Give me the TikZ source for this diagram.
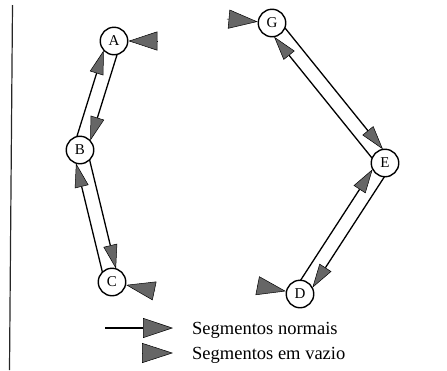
\documentclass[tikz,border=0pt]{standalone}
\usepackage{fontspec}
\setmainfont{Liberation Serif}
\usetikzlibrary{arrows.meta,calc}
\begin{document}
\begin{tikzpicture}[x=1pt,y=-1pt,
  station/.style={circle,draw,line width=1.4pt,minimum size=27.5pt,inner sep=0pt,fill=white,font=\fontsize{15}{15}\selectfont},
  normal/.style={line width=1.3pt,-{Triangle[length=24pt,width=14pt,fill=black!60,color=black,line width=0.5pt]}},
  legnormal/.style={line width=1.3pt,-{Triangle[length=30pt,width=20pt,fill=black!60,color=black,line width=0.5pt]}},
  vazio/.style={line width=0.5pt,-{Triangle[length=29pt,width=19pt,fill=black!60,color=black,line width=0.5pt]}},
  legtext/.style={anchor=west,inner sep=0pt,font=\fontsize{18.5}{18.5}\selectfont}]
\useasboundingbox (0,0) rectangle (447,370);
% margin line
\coordinate (mt) at (12.5,5);
\coordinate (mb) at (9.5,370);
\draw[line width=1.2pt,black!85] (mt) -- (mb);
% stations
\node[station] (A) at (114,41) {A};
\node[station] (B) at (80,150) {B};
\node[station] (C) at (112,282) {C};
\node[station] (G) at (272,23) {G};
\node[station] (E) at (385,163) {E};
\node[station] (D) at (300,294) {D};
% normal segments (each on the left of its direction of travel)
\newcommand\segm[2]{\draw[normal] ($(#1)!12pt!(#2)!7pt!90:(#2)$) -- ($(#2)!12pt!(#1)!7pt!-90:(#1)$);}
\segm{A}{B}
\segm{B}{A}
\segm{B}{C}
\segm{C}{B}
\segm{G}{E}
\segm{E}{G}
\segm{E}{D}
\segm{D}{E}
% empty segments
\coordinate (av) at (158,41);
\coordinate (cv) at (155,291);
\coordinate (gv) at (227,19);
\coordinate (dv) at (259,286);
\draw[vazio] (av) -- (A);
\draw[vazio] (cv) -- (C);
\draw[vazio] (gv) -- (G);
\draw[vazio] (dv) -- (D);
% legend
\coordinate (l1s) at (105,328);
\coordinate (l1e) at (173,328);
\coordinate (l2s) at (142,353);
\coordinate (l2e) at (173,353);
\draw[legnormal] (l1s) -- (l1e);
\draw[vazio,-{Triangle[length=31pt,width=20pt,fill=black!60,color=black,line width=0.5pt]}] (l2s) -- (l2e);
\node[legtext] (t1) at (192,330) {Segmentos normais};
\node[legtext] (t2) at (192,355) {Segmentos em vazio};
\end{tikzpicture}
\end{document}
